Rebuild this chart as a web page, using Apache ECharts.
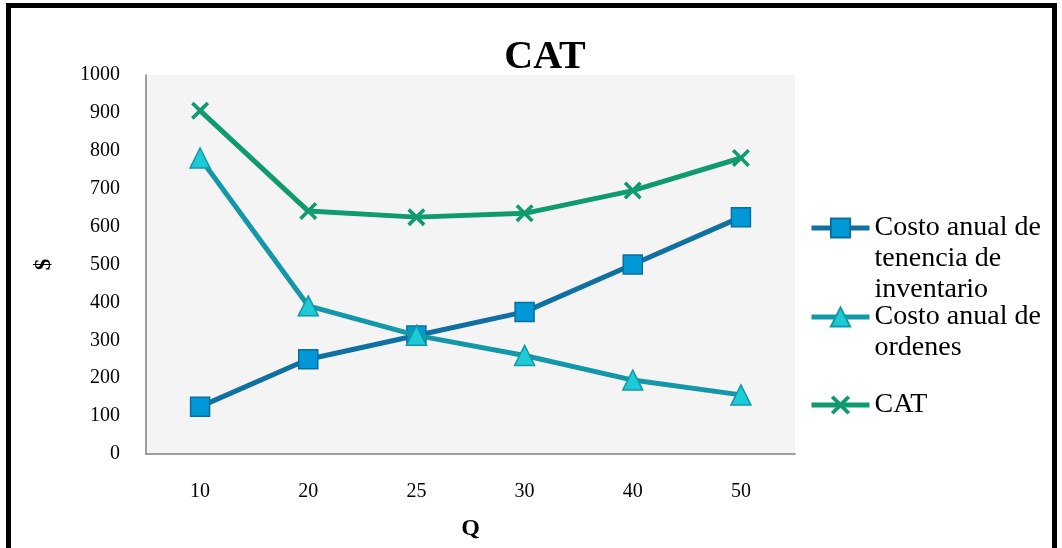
<!DOCTYPE html>
<html>
<head>
<meta charset="utf-8">
<script src="https://cdn.jsdelivr.net/npm/echarts@6/dist/echarts.min.js"></script>
<style>html,body{margin:0;padding:0;background:#fff;}#c{width:1062px;height:548px;}</style>
</head>
<body>
<div id="c"></div>
<script>
var categories = ['10', '20', '25', '30', '40', '50'];
var holdingCost = [125, 250, 312.5, 375, 500, 625];
var orderingCost = [781, 391, 313, 260, 195, 156];
var totalCost = [906, 641, 625, 635, 695, 781];
var yTicks = { min: 0, max: 1000, interval: 100 };
var names = ['Costo anual de\ntenencia de\ninventario', 'Costo anual de\nordenes', 'CAT'];

var FONT = '"Liberation Serif", "DejaVu Serif", serif';
var chart = echarts.init(document.getElementById('c'), null, { renderer: 'canvas' });

var crossPath = 'path://M0,1.4 L1.4,0 L5,3.6 L8.6,0 L10,1.4 L6.4,5 L10,8.6 L8.6,10 L5,6.4 L1.4,10 L0,8.6 L3.6,5 Z';

function legendFor(i, top, blanks) {
  return {
    data: [names[i]],
    left: 809,
    top: top,
    orient: 'vertical',
    itemWidth: 58,
    itemHeight: 24,
    padding: 0,
    selectedMode: false,
    lineStyle: { width: 5 },
    formatter: function (n) { return blanks + n; },
    textStyle: { fontFamily: FONT, fontSize: 28, color: '#000', lineHeight: 31 }
  };
}

chart.setOption({
  animation: false,
  backgroundColor: '#fff',
  title: {
    text: 'CAT',
    left: 540,
    textAlign: 'center',
    top: 33,
    textStyle: { fontFamily: FONT, fontSize: 40, fontWeight: 'bold', color: '#000' }
  },
  legend: [
    legendFor(0, 228 - 77.5, '\n\n'),
    legendFor(1, 317 - 46.5, '\n'),
    legendFor(2, 405 - 15.5, '')
  ],
  grid: {
    left: 146, right: 267, top: 75, bottom: 94,
    containLabel: false,
    outerBoundsMode: 'none',
    show: true, backgroundColor: '#f4f4f4', borderWidth: 0
  },
  xAxis: {
    type: 'category',
    data: categories,
    boundaryGap: true,
    name: 'Q',
    nameLocation: 'middle',
    nameGap: 63,
    nameTextStyle: { fontFamily: FONT, fontSize: 24, fontWeight: 'bold', color: '#000' },
    axisLine: { show: true, lineStyle: { color: '#808080', width: 1.5 } },
    axisTick: { show: false },
    axisLabel: { margin: 28, fontFamily: FONT, fontSize: 20, color: '#000' },
    splitLine: { show: false }
  },
  yAxis: {
    type: 'value',
    min: yTicks.min, max: yTicks.max, interval: yTicks.interval,
    name: '$',
    nameLocation: 'middle',
    nameGap: 90,
    nameRotate: 90,
    nameTextStyle: { fontFamily: FONT, fontSize: 23, fontWeight: 'bold', color: '#000' },
    axisLine: { show: true, lineStyle: { color: '#808080', width: 1.5 } },
    axisTick: { show: false },
    axisLabel: { margin: 26, fontFamily: FONT, fontSize: 20, color: '#000', formatter: function (v) { return String(v); } },
    splitLine: { show: false }
  },
  series: [
    {
      name: names[0], type: 'line', data: holdingCost,
      symbol: 'rect', symbolSize: 19,
      lineStyle: { color: '#0f70a2', width: 5 },
      itemStyle: { color: '#0098d6', borderColor: '#0a6f9a', borderWidth: 1.5 },
      z: 2
    },
    {
      name: names[1], type: 'line', data: orderingCost,
      symbol: 'triangle', symbolSize: 20,
      lineStyle: { color: '#1497a8', width: 5 },
      itemStyle: { color: '#1ccbd6', borderColor: '#119aa5', borderWidth: 1.5 },
      z: 3
    },
    {
      name: names[2], type: 'line', data: totalCost,
      symbol: crossPath, symbolSize: 18,
      lineStyle: { color: '#0f9b6e', width: 5 },
      itemStyle: { color: '#0f9b6e', borderWidth: 0 },
      z: 4
    }
  ],
  graphic: [
    { type: 'rect', shape: { x: 8.5, y: 5.5, width: 1046, height: 560 }, style: { fill: null, stroke: '#000', lineWidth: 5 }, silent: true }
  ]
});
</script>
</body>
</html>
